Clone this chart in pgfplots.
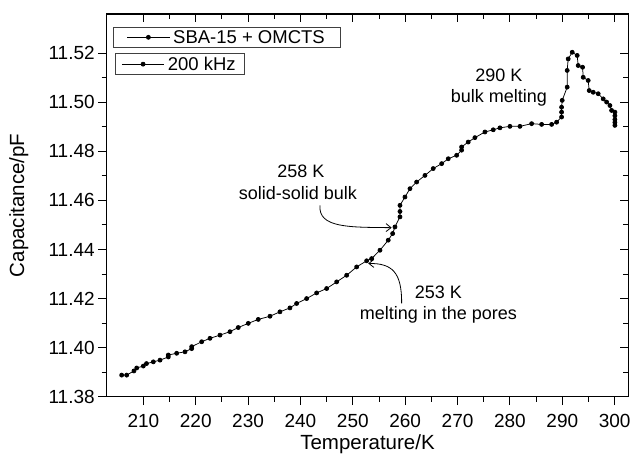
\documentclass[border=0pt]{standalone}
\usepackage{pgfplots}
\pgfplotsset{compat=1.18}
\usepackage{pgfplotstable}
\usepackage{fontspec}
\setmainfont{Liberation Sans}
\usetikzlibrary{arrows.meta}

\pgfplotstableread{
T C
205.86 11.3888
206.82 11.3888
208.20 11.3905
208.73 11.3917
209.99 11.3925
210.60 11.3935
211.90 11.3942
213.18 11.3949
214.76 11.3962
214.76 11.3970
216.36 11.3977
217.95 11.3983
219.23 11.3996
219.23 11.4004
221.14 11.4024
222.72 11.4038
224.63 11.4051
226.54 11.4065
228.12 11.4082
230.03 11.4099
231.94 11.4115
234.18 11.4128
236.08 11.4146
237.99 11.4162
239.27 11.4180
241.18 11.4200
243.09 11.4223
245.00 11.4241
246.91 11.4268
248.82 11.4295
250.73 11.4329
252.64 11.4354
253.59 11.4363
255.18 11.4397
256.76 11.4438
257.60 11.4465
258.04 11.4492
259.00 11.4533
259.00 11.4555
259.00 11.4580
259.95 11.4614
260.91 11.4648
262.18 11.4675
263.77 11.4702
265.35 11.4730
266.96 11.4750
268.22 11.4770
269.82 11.4784
270.77 11.4805
270.77 11.4818
272.03 11.4838
273.31 11.4856
275.22 11.4879
276.81 11.4888
278.09 11.4896
280.00 11.4902
281.91 11.4902
284.14 11.4913
286.05 11.4910
287.96 11.4910
288.91 11.4919
289.86 11.4940
289.86 11.4960
289.86 11.4980
289.98 11.5008
290.93 11.5062
290.93 11.5130
291.12 11.5177
291.89 11.5204
292.84 11.5191
293.03 11.5150
293.87 11.5143
293.99 11.5102
294.94 11.5089
295.13 11.5048
295.90 11.5041
296.85 11.5035
297.81 11.5014
298.46 11.5001
299.09 11.4987
299.41 11.4967
300.04 11.4960
300.04 11.4945
300.04 11.4930
300.04 11.4918
300.04 11.4906
}\datatable

\pgfplotsset{
  base/.style={
    at={(0,0)}, anchor=south west,
    scale only axis, width=521.6pt, height=382.7pt,
    xmin=203, xmax=302.6, ymin=11.38, ymax=11.536,
    xtick={210,220,230,240,250,260,270,280,290,300},
    minor x tick num=1,
    ytick={11.38,11.40,11.42,11.44,11.46,11.48,11.50,11.52},
    minor y tick num=1,
    major tick length=8.5pt, minor tick length=5pt,
    axis line style={line width=1.2pt},
    every tick/.style={black, line width=1pt},
    /pgf/number format/assume math mode=true,
    ticklabel style={font=\fontsize{19}{22}\selectfont},
    yticklabel style={/pgf/number format/fixed, /pgf/number format/fixed zerofill, /pgf/number format/precision=2},
    xticklabel style={/pgf/number format/fixed, /pgf/number format/1000 sep={}},
    xticklabel shift=5pt,
    legend image code/.code={\draw[mark repeat=2,mark phase=2,#1] plot coordinates {(0pt,0pt) (21.3pt,0pt) (42.7pt,0pt)};},
    legend style={draw=black!75, line width=0.8pt, fill=white, font=\fontsize{18.5}{21}\selectfont,
      anchor=north west, inner ysep=1pt, nodes={inner xsep=3pt, inner ysep=2pt}},
  },
  ser/.style={black, line width=0.75pt, mark=*, mark size=2pt, mark options={solid, fill=black}},
}

\begin{document}
\begin{tikzpicture}
\useasboundingbox (-106.7pt,-64.3pt) rectangle (525.3pt,396.7pt);
\begin{axis}[base,
  xtick pos=left, ytick pos=left, tick align=outside,
  xlabel={Temperature/K}, ylabel={Capacitance/pF},
  every axis x label/.style={at={(axis description cs:0.5,-0.1314)}, anchor=base, yshift=-3pt, font=\fontsize{20.5}{24}\selectfont},
  every axis y label/.style={at={(axis description cs:-0.1432,0.5)}, rotate=90, anchor=south, font=\fontsize{20.5}{24}\selectfont},
  legend style={at={(rel axis cs:0.0127,0.9668)}, inner xsep=13pt},
]
\addplot[ser] table[x=T, y=C] {\datatable};
\addlegendentry{SBA-15 + OMCTS}

\node[font=\fontsize{18}{20}\selectfont, anchor=base] at (axis cs:277.9,11.5084) {290 K};
\node[font=\fontsize{18}{20}\selectfont, anchor=base] at (axis cs:277.9,11.5001) {bulk melting};
\node[font=\fontsize{18}{20}\selectfont, anchor=base] at (axis cs:240.06,11.4694) {258 K};
\node[font=\fontsize{18}{20}\selectfont, anchor=base] at (axis cs:239.5,11.4605) {solid-solid bulk};
\node[font=\fontsize{18}{20}\selectfont, anchor=base] at (axis cs:266.32,11.4200) {253 K};
\node[font=\fontsize{18}{20}\selectfont, anchor=base] at (axis cs:266.32,11.4116) {melting in the pores};

\draw[line width=0.8pt, -{Straight Barb[length=5pt,width=8pt]}] (axis cs:243.73,11.4580) .. controls (axis cs:243.34,11.4487) and (axis cs:249.45,11.4491) .. (axis cs:257.41,11.4489);
\draw[line width=0.8pt, -{Straight Barb[length=5pt,width=8pt]}] (axis cs:259.32,11.4180) .. controls (axis cs:259.37,11.4308) and (axis cs:257.47,11.4344) .. (axis cs:252.94,11.4343);
\end{axis}
\begin{axis}[base,
  xtick pos=right, ytick pos=right, tick align=inside,
  xticklabels={}, yticklabels={},
  legend style={at={(rel axis cs:0.0159,0.8973)}, inner xsep=6pt},
]
\addlegendimage{ser}
\addlegendentry{200 kHz}
\end{axis}
\end{tikzpicture}
\end{document}
